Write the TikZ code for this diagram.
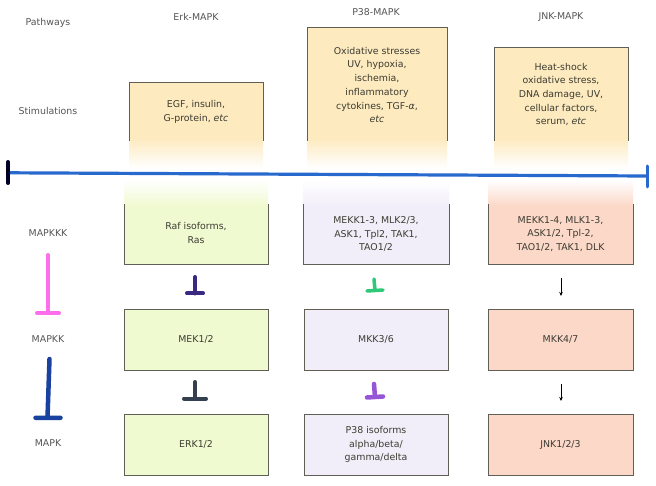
\documentclass[tikz,border=0pt]{standalone}
\usepackage{fontspec}
\setmainfont{DejaVu Sans}
\usetikzlibrary{arrows.meta}
\definecolor{stimc}{RGB}{253,234,191}
\definecolor{erkc}{RGB}{240,250,209}
\definecolor{p38c}{RGB}{242,238,249}
\definecolor{jnkc}{RGB}{252,216,200}
\definecolor{bd}{RGB}{95,95,85}
\definecolor{txt}{RGB}{60,60,50}
\definecolor{side}{RGB}{85,85,85}
\definecolor{linec}{RGB}{40,105,205}
\begin{document}
\begin{tikzpicture}[x=1pt,y=-1pt,
  lbl/.style={font=\fontsize{9.4}{13.7}\selectfont, text=txt, align=center, inner sep=0pt},
  sidelbl/.style={lbl, text=side},
  box/.style={draw=bd, line width=0.8pt, minimum width=144pt, minimum height=61pt, lbl},
  tee/.style={line width=4pt, line cap=round},
  thinarrow/.style={line width=0.8pt, -{Stealth[length=4pt,width=3.5pt]}}]
\useasboundingbox[fill=white] (0,0) rectangle (656,486);

% side labels
\node[sidelbl] (pw) at (48,23) {Pathways};
\node[sidelbl] (st) at (48,111) {Stimulations};
\node[sidelbl] (kkk) at (48,233) {MAPKKK};
\node[sidelbl] (kk) at (48,339) {MAPKK};
\node[sidelbl] (k) at (48,443) {MAPK};

% headers
\node[sidelbl] (herk) at (196,17) {Erk-MAPK};
\node[sidelbl] (hp38) at (376,12) {P38-MAPK};
\node[sidelbl] (hjnk) at (561,17) {JNK-MAPK};

% stimulation boxes (fading at the bottom)
\foreach \l/\r/\t in {129/263/82, 307/447/27, 494/628/47}{
  \fill[stimc] (\l,\t) rectangle (\r,139);
  \shade[top color=stimc, bottom color=white] (\l,138.5) rectangle (\r,168);
  \draw[bd, line width=0.8pt] (\l,141) -- (\l,\t) -- (\r,\t) -- (\r,141);
}
\node[lbl] (serk) at (196,112) {EGF, insulin,\\G-protein, \textit{etc}};
\node[lbl] (sp38) at (377,85) {Oxidative stresses\\UV, hypoxia,\\ischemia,\\inflammatory\\cytokines, TGF-\textit{α},\\\textit{etc}};
\node[lbl] (sjnk) at (561,94.5) {Heat-shock\\oxidative stress,\\DNA damage, UV,\\cellular factors,\\serum, \textit{etc}};

% MAPKKK boxes (fading at the top)
\foreach \l/\r/\c in {124/268/erkc, 303/449/p38c, 488/633/jnkc}{
  \shade[top color=white, bottom color=\c] (\l,180) rectangle (\r,206);
  \fill[\c] (\l,205.5) rectangle (\r,264);
  \draw[bd, line width=0.8pt] (\l,204) -- (\l,264) -- (\r,264) -- (\r,204);
}
\node[lbl] (kerk) at (196,233) {Raf isoforms,\\Ras};
\node[lbl] (kp38) at (376,234) {MEKK1-3, MLK2/3,\\ASK1, Tpl2, TAK1,\\TAO1/2};
\node[lbl] (kjnk) at (560.5,234) {MEKK1-4, MLK1-3,\\ASK1/2, Tpl-2,\\TAO1/2, TAK1, DLK};

% timeline
\coordinate (tl) at (9,172.8);
\coordinate (tr) at (647,176);
\draw[linec, line width=3.2pt] (tl) -- (tr);
\draw[black!85!blue, line width=4pt, line cap=round] (8,162) -- (8,183);
\draw[linec, line width=3pt, line cap=round] (647,166) -- (647,187);

% MAPKK boxes
\node[box, fill=erkc] (kkerk) at (196,339.5) {MEK1/2};
\node[box, fill=p38c] (kkp38) at (376,339.5) {MKK3/6};
\node[box, fill=jnkc, minimum width=145pt] (kkjnk) at (560.5,339.5) {MKK4/7};

% MAPK boxes
\node[box, fill=erkc] (merk) at (196,444.5) {ERK1/2};
\node[box, fill=p38c] (mp38) at (376,444.5) {P38 isoforms\\alpha/beta/\\gamma/delta};
\node[box, fill=jnkc, minimum width=145pt] (mjnk) at (560.5,444.5) {JNK1/2/3};

% legend tees
\coordinate (pa) at (48,255); \coordinate (pb) at (48,313);
\draw[tee, color={rgb,255:red,255;green,110;blue,235}] (pa) -- (pb) (pb) ++(-11,0) -- ++(22,0);
\coordinate (ba) at (49.5,359); \coordinate (bb) at (47.5,417.5);
\draw[tee, line width=4.5pt, color={rgb,255:red,25;green,65;blue,160}] (ba) -- (bb) (bb) ++(-12,0.3) -- ++(25,0);

% Erk tees
\coordinate (e1a) at (195,277); \coordinate (e1b) at (195,293.5);
\draw[tee, color={rgb,255:red,58;green,40;blue,130}] (e1a) -- (e1b) (e1b) ++(-8,0) -- ++(16,0);
\coordinate (e2a) at (195,382); \coordinate (e2b) at (195,398.5);
\draw[tee, color={rgb,255:red,52;green,64;blue,80}] (e2a) -- (e2b) (e2b) ++(-11,0) -- ++(22,0);

% P38 tees
\coordinate (p1a) at (374,279); \coordinate (p1b) at (375,290.5);
\draw[tee, line width=3.5pt, color={rgb,255:red,45;green,200;blue,120}] (p1a) -- (p1b) (p1b) ++(-8,0.5) -- ++(16,-1);
\coordinate (p2a) at (374,384); \coordinate (p2b) at (375,397);
\draw[tee, line width=4.5pt, color={rgb,255:red,150;green,85;blue,215}] (p2a) -- (p2b) (p2b) ++(-8,0.5) -- ++(16,-1);

% JNK arrows
\coordinate (j1a) at (561,278); \coordinate (j1b) at (561,296);
\draw[thinarrow] (j1a) -- (j1b);
\coordinate (j2a) at (561,384); \coordinate (j2b) at (561,401);
\draw[thinarrow] (j2a) -- (j2b);
\end{tikzpicture}
\end{document}
